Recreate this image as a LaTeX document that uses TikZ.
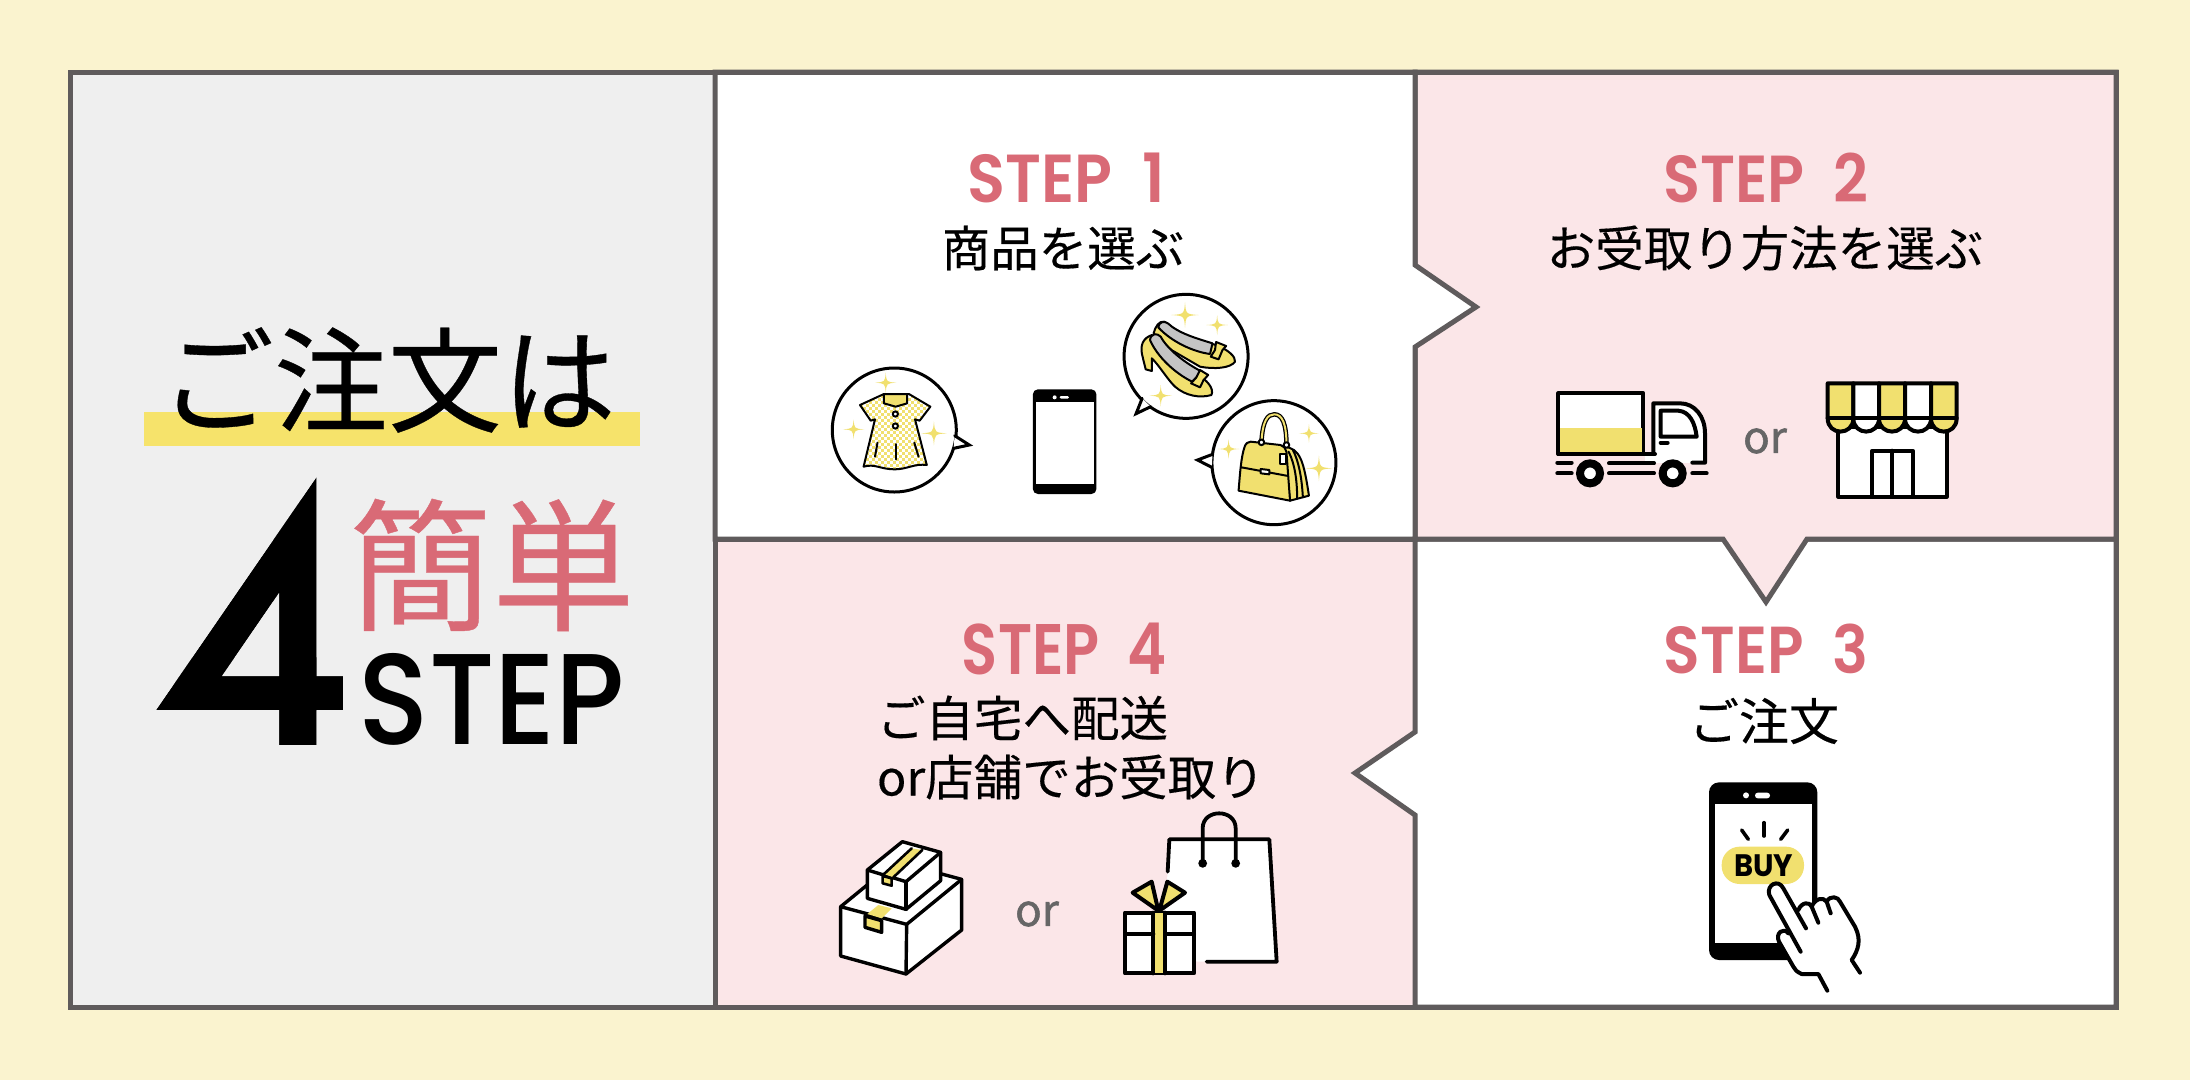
\documentclass[tikz,border=0pt]{standalone}
\usepackage{graphicx}
\usepackage{fontspec}
\setmainfont{Noto Sans CJK JP}
\newfontfamily\jpf{Noto Sans CJK JP}[FakeBold=0.3]
\newfontfamily\stepf{Poppins}[BoldFont=*-SemiBold]
\newfontfamily\stepm{Poppins}[BoldFont=*-Medium]
\newfontfamily\bigf{Poppins}[BoldFont=*-Bold]
\newfontfamily\fourf{Liberation Sans}
\newfontfamily\orf{Noto Sans CJK JP}[FakeBold=1.2]
\definecolor{bgy}{HTML}{FAF3CF}
\definecolor{panelg}{HTML}{EFEFEF}
\definecolor{pinkp}{HTML}{FBE6E8}
\definecolor{ylw}{HTML}{F1E06F}
\definecolor{band}{HTML}{F6E36B}
\definecolor{rose}{HTML}{D96A76}
\definecolor{frameg}{HTML}{5F5B5C}
\definecolor{orgray}{HTML}{666666}
\definecolor{shoeg}{HTML}{C4C4C4}
\tikzset{
  panelline/.style={draw=frameg,line width=5pt,miter limit=10},
  txt/.style={inner sep=0pt,outer sep=0pt,anchor=center},
  ic/.style={draw=black,line width=4pt,line join=round,line cap=round},
  icthin/.style={draw=black,line width=3pt,line join=round,line cap=round},
  iclight/.style={draw=black,line width=2pt,line join=round,line cap=round},
  spark/.pic={\fill[ylw] (0,-#1) .. controls (.07*#1,-.07*#1) .. (#1,0) .. controls (.07*#1,.07*#1) .. (0,#1) .. controls (-.07*#1,.07*#1) .. (-#1,0) .. controls (-.07*#1,-.07*#1) .. cycle;}
}
\newcommand{\jp}[2][48.5]{{\jpf\fontsize{#1}{#1}\selectfont #2}}
\newcommand{\fouroutline}{(316.5,477) -- (316.5,676) -- (343,676) -- (343,710) -- (316.5,710) -- (316.5,745) -- (279,745) -- (279,710) -- (156,710) -- cycle (279,593) -- (279,676) -- (222,676) -- cycle}
\begin{document}
\begin{tikzpicture}[x=1pt,y=-1pt]
\useasboundingbox (0,0) rectangle (2190,1080);
\fill[bgy] (0,0) rectangle (2190,1080);
% panels
\fill[panelg] (70,72) rectangle (715,1007);
\filldraw[fill=pinkp,panelline] (715,539) rectangle (1415,1007);
\filldraw[fill=white,panelline] (1415,539) -- (2116,539) -- (2116,1007) -- (1415,1007) -- (1415,815) -- (1355,773) -- (1415,732) -- cycle;
\filldraw[fill=pinkp,panelline] (1415,72) -- (2116,72) -- (2116,539) -- (1807,539) -- (1766,602) -- (1723,539) -- (1415,539) -- cycle;
\filldraw[fill=white,panelline] (715,72) -- (1415,72) -- (1415,265) -- (1476,307) -- (1415,347) -- (1415,539) -- (715,539) -- cycle;
\draw[panelline] (70,72) rectangle (2116,1007);
% left panel
\fill[band] (144,412) rectangle (640,446);
\node[txt] (title) at (388,380) {\jp[114]{ご注文は}};
% the big 4: real glyph, with its outline squared to the reference's pointed form
\fill[black,even odd rule] \fouroutline;
\node[txt] (four) at (249.5,611) {\resizebox*{190pt}{268pt}{\fourf 4}};
\fill[panelg,even odd rule] (150,470) rectangle (350,750) \fouroutline;
\node[txt,text=rose] (kantan) at (492,565) {\jp[143]{簡単}};
\node[txt] (bigstep) at (492,699) {\resizebox*{266pt}{92pt}{\stepm\bfseries STEP}};
% step titles
\node[txt,text=rose] (s1) at (1066,178) {\resizebox*{197pt}{50pt}{\stepf\bfseries STEP\ \ 1}};
\node[txt] (s1t) at (1063,248) {\jp{商品を選ぶ}};
\node[txt,text=rose] (s2) at (1766,178) {\resizebox*{205pt}{50pt}{\stepf\bfseries STEP\ \ 2}};
\node[txt] (s2t) at (1765,248) {\jp{お受取り方法を選ぶ}};
\node[txt,text=rose] (s3) at (1766,649) {\resizebox*{204pt}{50pt}{\stepf\bfseries STEP\ \ 3}};
\node[txt] (s3t) at (1764,721) {\jp[50]{ご注文}};
\node[txt,text=rose] (s4) at (1064.5,649) {\resizebox*{205pt}{52pt}{\stepf\bfseries STEP\ \ 4}};
\node[txt,anchor=west] (s4a) at (877,718) {\jp{ご自宅へ配送}};
\node[txt,anchor=west] (s4b) at (877,777) {\jp{or店舗でお受取り}};
\node[txt,text=orgray] (or1) at (1765,441) {\orf\fontsize{44}{44}\selectfont or};
\node[txt,text=orgray] (or2) at (1037,914) {\orf\fontsize{44}{44}\selectfont or};

% ===== STEP 1 icons
\begin{scope}[shift={(800,270)},x=0.35714pt,y=-0.33333pt]
 % dress bubble
 \draw[icthin,fill=white] (264,480) circle[radius=62pt];
 \draw[icthin,fill=white,line join=miter] (433,497) -- (474,525) -- (430,535);
 % shoes bubble
 \draw[icthin,fill=white] (1081,259) circle[radius=62pt];
 \draw[icthin,fill=white,line join=miter] (958,385) -- (941,431) -- (982,410);
 % bag bubble
 \draw[icthin,fill=white] (1327,578) circle[radius=62pt];
 \draw[icthin,fill=white,line join=miter] (1155,553) -- (1113,570) -- (1153,592);
 % sparkles
 \foreach \px/\py/\pr in {240/338/30,150/478/30,375/490/36,1078/135/38,1168/165/30,1010/377/32,1425/490/28,1200/537/30,1453/595/38}
   \pic at (\px,\py) {spark=\pr};
 % dress
 \begin{scope}
  \path[clip] (235,372) -- (168,405) -- (198,452) -- (210,448) -- (178,590) .. controls (210,580) and (225,598) .. (265,598) .. controls (300,598) and (320,580) .. (355,585) -- (322,448) -- (335,452) -- (365,410) -- (305,372) -- cycle;
  \fill[white] (160,360) rectangle (370,600);
  \foreach \ry in {362,380,...,608}
    \draw[ylw,line width=3pt,dash pattern=on 3pt off 3pt] (160,\ry) -- (372,\ry);
  \foreach \ry in {371,389,...,608}
    \draw[ylw,line width=3pt,dash pattern=on 3pt off 3pt,dash phase=3pt] (160,\ry) -- (372,\ry);
 \end{scope}
 \draw[iclight] (235,372) -- (168,405) -- (198,452) -- (210,448) -- (178,590) .. controls (210,580) and (225,598) .. (265,598) .. controls (300,598) and (320,580) .. (355,585) -- (322,448) -- (335,452) -- (365,410) -- (305,372) -- cycle;
 \filldraw[iclight,fill=ylw] (235,372) -- (235,400) -- (268,410) -- (300,400) -- (300,372) -- cycle;
 \draw[iclight,fill=white] (267,432) circle[radius=2.6pt];
 \draw[iclight,fill=white] (267,468) circle[radius=2.6pt];
 \draw[iclight] (217,518) -- (210,560);
 \draw[iclight] (270,522) -- (270,568);
 \draw[iclight] (320,518) -- (332,560);
 % phone
 \fill[black,rounded corners=5pt] (652,358) rectangle (830,672);
 \fill[white] (662,397) rectangle (822,643);
 \fill[white] (713,382) circle[radius=2pt];
 \fill[white,rounded corners=1.3pt] (727,378) rectangle (753,386);
 % upper shoe
 \filldraw[iclight,fill=ylw] (990,190) .. controls (995,170) and (1005,152) .. (1020,155) .. controls (1060,190) and (1110,210) .. (1165,225) .. controls (1200,240) and (1220,260) .. (1218,275) .. controls (1205,295) and (1160,298) .. (1120,290) -- (1040,240) -- cycle;
 \filldraw[iclight,fill=shoeg] (1003,172) .. controls (1005,155) and (1020,152) .. (1030,160) .. controls (1060,190) and (1110,205) .. (1155,220) -- (1148,252) .. controls (1100,245) and (1040,215) .. (1003,172) -- cycle;
 \filldraw[iclight,fill=ylw] (1165,216) -- (1193,228) -- (1183,240) -- (1172,268) -- (1150,260) -- (1162,240) -- cycle;
 % lower shoe
 \filldraw[iclight,fill=ylw] (968,298) -- (958,255) .. controls (952,225) and (960,205) .. (985,195) .. controls (1000,230) and (1050,270) .. (1110,312) .. controls (1140,330) and (1160,355) .. (1152,375) .. controls (1120,385) and (1080,378) .. (1050,350) .. controls (1030,330) and (1005,285) .. (985,265) -- (985,303) -- cycle;
 \filldraw[iclight,fill=shoeg] (980,210) .. controls (982,190) and (1000,188) .. (1010,200) .. controls (1030,240) and (1080,280) .. (1125,305) -- (1098,335) .. controls (1050,310) and (1000,260) .. (980,210) -- cycle;
 \filldraw[iclight,fill=ylw] (1120,300) -- (1143,315) -- (1130,330) -- (1120,352) -- (1095,340) -- (1110,322) -- cycle;
 % bag gussets
 \filldraw[iclight,fill=ylw] (1355,530) .. controls (1400,535) and (1410,570) .. (1425,677) -- (1372,692) -- cycle;
 \draw[iclight] (1380,540) .. controls (1395,570) and (1405,620) .. (1408,682);
 \draw[iclight] (1368,545) .. controls (1385,580) and (1392,630) .. (1392,686);
 % bag handle
 \draw[black,line width=4.5pt,line cap=round] (1292,518) .. controls (1295,450) and (1310,433) .. (1328,433) .. controls (1350,433) and (1362,460) .. (1362,525);
 \draw[ylw,line width=2pt,line cap=round] (1292,518) .. controls (1295,450) and (1310,433) .. (1328,433) .. controls (1350,433) and (1362,460) .. (1362,525);
 % bag body
 \filldraw[iclight,fill=ylw] (1262,515) -- (1345,525) .. controls (1355,530) and (1360,535) .. (1362,545) -- (1372,692) -- (1228,662) .. controls (1232,610) and (1235,560) .. (1245,530) .. controls (1248,520) and (1255,515) .. (1262,515) -- cycle;
 \draw[iclight] (1236,592) -- (1367,618);
 \filldraw[iclight,fill=white] (1290,597) -- (1314,600) -- (1314,613) -- (1290,610) -- cycle;
 \filldraw[iclight,fill=white] (1345,553) -- (1362,553) -- (1362,583) -- (1345,583) -- cycle;
 \draw[iclight,fill=white] (1292,517) circle[radius=2.8pt];
 \draw[iclight,fill=white] (1362,525) circle[radius=2.8pt];
\end{scope}

% ===== STEP 2 icons
\begin{scope}[shift={(1530,360)},x=0.33333pt,y=-0.33333pt]
 % truck
 \fill[white] (345,282) rectangle (525,308);
 \fill[white] (370,130) -- (450,130) .. controls (495,130) and (525,170) .. (525,220) -- (525,308) -- (370,308) -- cycle;
 \filldraw[ic,fill=white] (85,100) rectangle (340,282);
 \fill[ylw] (90,203) rectangle (335,278);
 \draw[ic] (85,282) -- (375,282);
 \draw[ic] (370,282) -- (370,130) -- (450,130) .. controls (495,130) and (525,170) .. (525,220) -- (525,308) -- (487,308);
 \draw[ic] (392,152) -- (445,152) .. controls (480,155) and (495,190) .. (500,230) -- (392,230) -- cycle;
 \draw[ic] (392,248) -- (413,248);
 \draw[ic] (82,308) -- (125,308);
 \draw[ic] (82,340) -- (125,340);
 \draw[ic] (237,310) -- (372,310);
 \draw[ic] (237,340) -- (372,340);
 \draw[ic] (487,340) -- (530,340);
 \draw[black,fill=white,line width=8pt] (180,340) circle[radius=10pt];
 \draw[black,fill=white,line width=8pt] (428,340) circle[radius=10pt];
 % shop
 \filldraw[ic,fill=white] (925,200) rectangle (1250,410);
 \foreach \xa/\xb/\col in {893/970/ylw,970/1047/white,1047/1125/ylw,1125/1203/white,1203/1280/ylw}{
   \filldraw[ic,fill=\col] (\xa,70) -- (\xb,70) -- (\xb,175) .. controls (\xb,228) and (\xa,228) .. (\xa,175) -- cycle;
 }
 \draw[ic] (893,175) -- (1280,175);
 \draw[ic] (1027,405) -- (1027,272) -- (1148,272) -- (1148,405);
 \draw[ic] (1087,272) -- (1087,405);
\end{scope}

% ===== STEP 3 icon
\begin{scope}[shift={(1680,770)},x=0.33333pt,y=-0.33333pt]
 \fill[black,rounded corners=10pt] (87,37) rectangle (412,570);
 \fill[white] (104,103) rectangle (396,520);
 \fill[white] (198,76) circle[radius=3pt];
 \fill[white,rounded corners=2.8pt] (225,68) rectangle (270,85);
 \draw[ic,line width=3.6pt] (252,158) -- (252,198);
 \draw[ic,line width=3.6pt] (185,180) -- (205,208);
 \draw[ic,line width=3.6pt] (323,180) -- (302,208);
 \fill[ylw,rounded corners=18pt] (125,230) rectangle (372,342);
 \node[txt] (buy) at (251,288) {\resizebox*{59pt}{22pt}{\bigf\bfseries BUY}};
 % hand
 \fill[white] (442,662) -- (415,612) -- (365,612) .. controls (350,605) and (345,600) .. (340,590) -- (297,515) .. controls (285,490) and (310,470) .. (325,490) -- (268,375) .. controls (258,345) and (295,325) .. (310,355) -- (355,420) .. controls (365,395) and (390,395) .. (395,410) .. controls (405,385) and (430,380) .. (440,395) .. controls (450,375) and (475,380) .. (480,395) -- (525,470) .. controls (545,510) and (535,540) .. (515,570) -- (540,608) -- cycle;
 \draw[ic] (442,662) -- (415,612) -- (365,612) .. controls (350,605) and (345,600) .. (340,590) -- (297,515) .. controls (285,490) and (310,470) .. (325,490);
 \draw[ic] (362,545) -- (268,375) .. controls (258,345) and (295,325) .. (310,355) -- (378,475);
 \draw[ic] (355,420) .. controls (365,395) and (390,395) .. (395,410) -- (415,458);
 \draw[ic] (395,410) .. controls (405,385) and (430,380) .. (440,395) -- (452,430);
 \draw[ic] (440,395) .. controls (450,375) and (475,380) .. (480,395) -- (525,470) .. controls (545,510) and (535,540) .. (515,570) -- (540,608);
\end{scope}

% ===== STEP 4 icons
\begin{scope}[shift={(810,790)},x=0.33333pt,y=-0.33333pt]
 \tikzset{b/.style={draw=black,line width=3.4pt,line join=round,line cap=round}}
 % big box
 \filldraw[b,fill=white] (92,350) -- (257,215) -- (455,268) -- (455,420) -- (288,552) -- (92,498) -- cycle;
 \draw[b] (92,350) -- (290,403) -- (455,268);
 \draw[b] (290,403) -- (288,552);
 \fill[ylw] (172,372) -- (205,345) -- (245,355) -- (215,385) -- cycle;
 \filldraw[b,fill=ylw] (165,378) -- (215,392) -- (215,427) -- (165,412) -- cycle;
 % small box
 \filldraw[b,fill=white] (172,240) -- (277,155) -- (392,187) -- (392,272) -- (288,358) -- (172,325) -- cycle;
 \draw[b] (172,240) -- (288,275) -- (392,187);
 \draw[b] (288,275) -- (288,358);
 \fill[ylw] (222,252) -- (305,175) -- (337,180) -- (250,262) -- cycle;
 \draw[b,line width=2.6pt] (222,252) -- (305,175);
 \draw[b,line width=2.6pt] (250,262) -- (337,180);
 \filldraw[b,fill=ylw,line width=2.6pt] (218,258) -- (245,265) -- (245,287) -- (218,280) -- cycle;
 % bag
 \fill[white] (1078,148) -- (1378,148) -- (1400,515) -- (1160,515) -- (1060,400) -- (1073,245) -- cycle;
 \draw[ic,line width=3.8pt] (1073,245) -- (1078,148) -- (1378,148) -- (1400,515) -- (1190,515);
 \draw[ic,line width=3.8pt] (1178,220) -- (1178,115) .. controls (1178,55) and (1277,55) .. (1277,115) -- (1277,220);
 \fill[black] (1178,220) circle[radius=4.4pt];
 \fill[black] (1277,220) circle[radius=4.4pt];
 % gift
 \filldraw[ic,fill=ylw] (968,308) -- (1025,275) -- (1045,362) -- cycle;
 \filldraw[ic,fill=ylw] (1072,275) -- (1125,308) -- (1048,362) -- cycle;
 \filldraw[ic,fill=white] (945,368) rectangle (1152,550);
 \fill[ylw] (1030,368) rectangle (1065,550);
 \draw[ic] (1030,368) -- (1030,550);
 \draw[ic] (1065,368) -- (1065,550);
 \draw[ic] (945,432) -- (1030,432);
 \draw[ic] (1065,432) -- (1152,432);
\end{scope}
\end{tikzpicture}
\end{document}
